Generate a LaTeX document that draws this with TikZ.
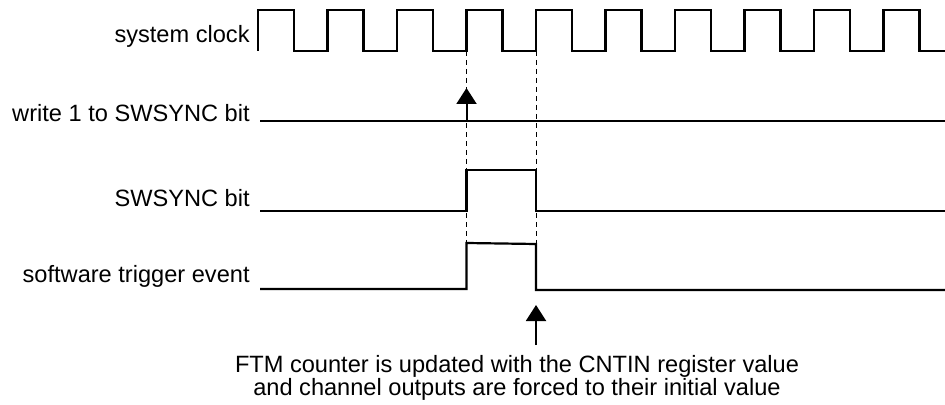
\documentclass[tikz,border=0pt]{standalone}
\usepackage{fontspec}
\setmainfont{Liberation Sans}
\usepackage{tikz}
\usetikzlibrary{positioning,arrows.meta,calc}
\tikzset{
  >={Triangle[length=8pt,width=10pt]},
  sfnt/.style={font=\fontsize{11.8}{11.5}\selectfont},
  slbl/.style={sfnt,anchor=base east,inner sep=0pt},
  swav/.style={line width=1.1pt,line join=miter},
  sdsh/.style={line width=0.5pt,dash pattern=on 2.5pt off 2pt},
  sar/.style={->,line width=1pt},
}

\begin{document}
\begin{tikzpicture}[x=0.5pt,y=-0.5pt]
  \useasboundingbox (0,0) rectangle (945,405);
  \node[slbl] (clk) at (250,43)  {system clock};
  \node[slbl] (wr)  at (250,122) {write 1 to SWSYNC bit};
  \node[slbl] (sw)  at (250,207) {SWSYNC bit};
  \node[slbl] (trg) at (250,282) {software trigger event};
  % waveforms
  \draw[swav] (258,51) foreach \k in {0,...,8}{ -- ++(0,-41) -- ++(36,0) -- ++(0,41) -- ++(33.5,0) }
    -- ++(0,-41) -- ++(36,0) -- ++(0,41) -- (945,51);
  \draw[swav] (260,121) -- (945,121);
  \draw[swav] (260,211) -- (466.5,211) -- (466.5,170) -- (536,170) -- (536,211) -- (945,211);
  \draw[swav] (260,289) -- (466.5,289) -- (466.5,243) -- (536,244) -- (536,290) -- (945,290);
  % edges and markers
  \coordinate (r1) at (466.5,51);  \coordinate (r2) at (536,51);
  \coordinate (p1) at (466.5,243); \coordinate (p2) at (536,244);
  \draw[sdsh] (r1) -- (p1); \draw[sdsh] (r2) -- (p2);
  \coordinate (w1) at (466.5,121); \coordinate (a1) at (466.5,88);
  \draw[sar] (w1) -- (a1);
  \node[sfnt,align=center,anchor=north,inner sep=0pt] (note) at (517,355)
    {FTM counter is updated with the CNTIN register value\\and channel outputs are forced to their initial value};
  \coordinate (b2) at (536,345); \coordinate (a2) at (536,305);
  \draw[sar] (b2) -- (a2);
\end{tikzpicture}
\end{document}
